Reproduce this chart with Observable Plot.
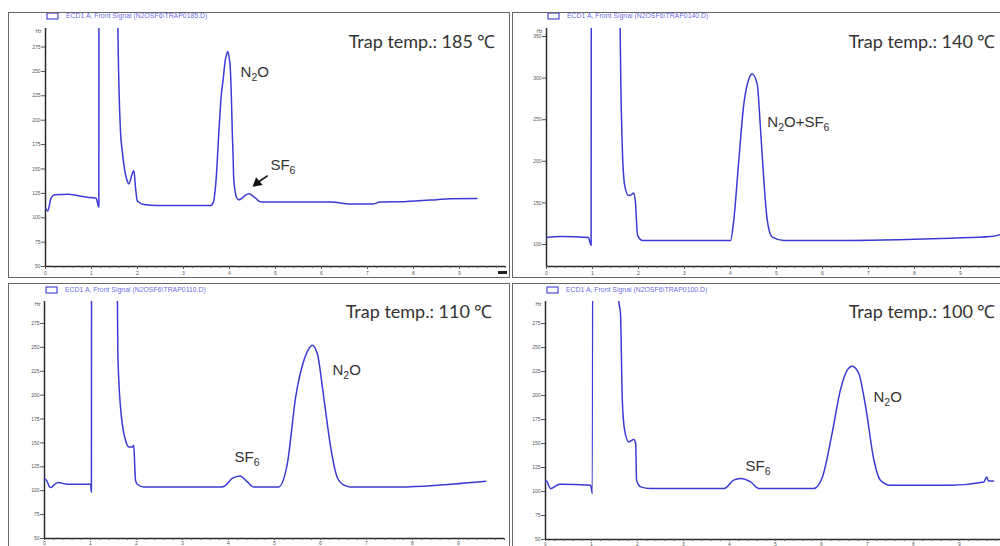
<!DOCTYPE html>
<html>
<head>
<meta charset="utf-8">
<script src="https://cdn.jsdelivr.net/npm/d3@7"></script>
<script src="https://cdn.jsdelivr.net/npm/@observablehq/plot@0.6"></script>
<style>
  html, body { margin: 0; padding: 0; background: #fff; overflow: hidden; }
  #chart { position: relative; width: 1000px; height: 546px; overflow: hidden; background: #fff; }
  #chart svg { position: absolute; outline: 1.6px solid #666; outline-offset: -1px; }
</style>
</head>
<body>
<div id="chart"></div>
<script>
// ECD front-signal chromatograms of N2O / SF6 at four cold-trap temperatures.
// Retention time in minutes, detector signal in Hz (off-scale solvent peaks run past the top).

const time185 = [0, 0.05, 0.12, 0.2, 0.5, 0.9, 1.1, 1.16, 1.175, 1.565, 1.572, 1.63, 1.667, 1.702, 1.776, 1.811, 1.885, 1.92, 1.963, 1.993, 2.03, 2.14, 2.43, 3.59, 3.65, 3.71, 3.77, 3.82, 3.86, 3.91, 3.93, 3.96, 3.99, 4.02, 4.04, 4.06, 4.08, 4.09, 4.12, 4.15, 4.2, 4.24, 4.33, 4.42, 4.5, 4.57, 4.64, 4.71, 6.2, 6.63, 7.1, 7.28, 7.8, 8.5, 8.8, 9.38];
const signal185 = [110, 107, 120, 123.5, 124, 121, 120, 111, 2000, 2000, 300, 189, 169, 155, 138, 134.7, 145, 148.4, 128, 117.6, 115.9, 113.5, 112.5, 112.5, 116, 140, 189, 225, 241, 262, 266, 270.5, 265, 251, 225, 189, 160, 141.5, 128, 121, 118.5, 119, 122.5, 124.5, 122.5, 120, 117, 116, 116, 114, 114, 116, 116.5, 118.5, 119.5, 119.7];

const time140 = [0, 0.3, 0.91, 0.97, 0.99, 1.59, 1.6, 1.65, 1.7, 1.78, 1.85, 1.89, 1.93, 1.98, 2.09, 4.0, 4.07, 4.18, 4.29, 4.4, 4.47, 4.58, 4.65, 4.72, 4.8, 4.91, 5.16, 6.61, 7.63, 8.78, 9.65, 9.87];
const signal140 = [108.4, 109.6, 108.4, 99, 2000, 2000, 370, 213, 171, 159, 160, 162, 153, 111, 104.8, 104.8, 128.8, 201, 269, 299, 305, 293, 241, 181, 128.8, 108.8, 104.8, 104.8, 105.6, 107.6, 109.6, 112];

const time110 = [0, 0.02, 0.13, 0.29, 0.49, 1.0, 1.02, 1.04, 1.58, 1.585, 1.593, 1.615, 1.652, 1.689, 1.761, 1.833, 1.907, 1.941, 1.963, 1.978, 2.015, 2.159, 3.83, 3.9, 4.08, 4.25, 4.41, 4.55, 5.09, 5.28, 5.46, 5.64, 5.75, 5.82, 5.93, 6.07, 6.22, 6.36, 6.51, 6.65, 7.74, 8.6, 9.59];
const signal110 = [111, 112, 103.3, 108.6, 106.8, 106.8, 98.7, 2000, 2000, 300, 250, 215.7, 187.7, 170.3, 152.8, 145.8, 145.8, 147.6, 124.9, 111, 106.8, 104, 104, 104.5, 112.8, 115.5, 109.2, 104, 104, 128.5, 198, 236.5, 248.7, 252.2, 243.5, 198, 145.8, 114.4, 105.8, 104, 104, 106, 110];

const time100 = [0, 0.02, 0.11, 0.31, 0.98, 1.02, 1.05, 1.585, 1.59, 1.63, 1.67, 1.72, 1.81, 1.92, 1.96, 1.98, 2.07, 2.28, 3.88, 4.09, 4.24, 4.46, 4.64, 5.83, 6.02, 6.23, 6.41, 6.56, 6.67, 6.81, 6.96, 7.14, 7.28, 7.5, 8.8, 9.53, 9.59, 9.63, 9.74];
const signal100 = [110, 111, 103, 107.6, 106.6, 97.9, 2000, 2000, 300, 285.5, 195, 163.9, 151.7, 154.2, 150, 111.8, 104.8, 103.1, 103.1, 111.8, 113.6, 110, 103.1, 103.1, 115.2, 160.5, 205.6, 226.4, 230.6, 223, 188.2, 132.6, 111.8, 106.6, 106.6, 110, 115, 111, 111];

// Signal axis ticks (Hz) and time axis ticks (min)
const signalTicks25 = [50, 75, 100, 125, 150, 175, 200, 225, 250, 275];
const signalTicks50 = [100, 150, 200, 250, 300, 350];
const timeTicks = [0, 1, 2, 3, 4, 5, 6, 7, 8, 9];

// Panel headings and detector-signal legend strings
const trapTemps = ["Trap temp.: 185 \u2103", "Trap temp.: 140 \u2103", "Trap temp.: 110 \u2103", "Trap temp.: 100 \u2103"];
const signalNames = [
  "ECD1 A, Front Signal (N2OSF6\\TRAP0185.D)",
  "ECD1 A, Front Signal (N2OSF6\\TRAP0140.D)",
  "ECD1 A, Front Signal (N2OSF6\\TRAP0110.D)",
  "ECD1 A, Front Signal (N2OSF6\\TRAP0100.D)"
];

// Peak annotations: text (underscore marks a subscript digit), time, signal
const peakText185 = ["N_2O", "SF_6"];
const peakTime185 = [4.24, 4.89];
const peakSignal185 = [249, 153.5];
const peakText140 = ["N_2O+SF_6"];
const peakTime140 = [4.8];
const peakSignal140 = [246.6];
const peakText110 = ["SF_6", "N_2O"];
const peakTime110 = [4.13, 6.26];
const peakSignal110 = [135, 226];
const peakText100 = ["SF_6", "N_2O"];
const peakTime100 = [4.35, 7.13];
const peakSignal100 = [126.4, 198.3];

// Arrow pointing at the small SF6 shoulder at 185 °C: [time, signal] of tail and head
const arrowTail185 = [4.83, 143.2];
const arrowHead185 = [4.6, 135.6];

const traceColor = "#3a3ad4";
const inkColor = "#333";

const panels = [
  {time: time185, signal: signal185, domain: [50, 294], ticks: signalTicks25, name: signalNames[0], temp: trapTemps[0],
   peaks: [peakText185, peakTime185, peakSignal185], arrow: true, scrollMark: true, tickSize: 3, tickPadding: 1.5,
   box: {left: 8, top: 12, width: 502, height: 266, mL: 37, mR: 5, mT: 16, mB: 12}, tempDx: -10, tempDy: 14, legendY: 1},
  {time: time140, signal: signal140, domain: [73.6, 359.6], ticks: signalTicks50, name: signalNames[1], temp: trapTemps[1],
   peaks: [peakText140, peakTime140, peakSignal140], arrow: false, scrollMark: false, tickSize: 3, tickPadding: 1.5,
   box: {left: 512, top: 12, width: 499, height: 266, mL: 34, mR: 5, mT: 16, mB: 12}, tempDx: -11, tempDy: 14, legendY: 1},
  {time: time110, signal: signal110, domain: [50, 298], ticks: signalTicks25, name: signalNames[2], temp: trapTemps[2],
   peaks: [peakText110, peakTime110, peakSignal110], arrow: false, scrollMark: false, tickSize: 2, tickPadding: 0.5,
   box: {left: 8, top: 283, width: 502, height: 268, mL: 36, mR: 6, mT: 18, mB: 13}, tempDx: -12, tempDy: 11, legendY: 4},
  {time: time100, signal: signal100, domain: [50, 298], ticks: signalTicks25, name: signalNames[3], temp: trapTemps[3],
   peaks: [peakText100, peakTime100, peakSignal100], arrow: false, scrollMark: false, tickSize: 2, tickPadding: 0.5,
   box: {left: 512, top: 283, width: 499, height: 268, mL: 33, mR: 6, mT: 18, mB: 12}, tempDx: -10, tempDy: 11, legendY: 4}
];

// Turn "N_2O" style strings into text with lowered, smaller digits
function subscriptLabels(svg) {
  d3.select(svg).selectAll("text").each(function () {
    if (this.querySelector("tspan") || !/_\d/.test(this.textContent)) return;
    const parts = this.textContent.split(/_(\d)/);
    const t = d3.select(this);
    t.text(null);
    let lowered = false;
    parts.forEach((p, i) => {
      if (!p) return;
      if (i % 2 === 1) {
        t.append("tspan").attr("dy", 4).attr("font-size", 10.5).text(p);
        lowered = true;
      } else {
        const span = t.append("tspan").text(p);
        if (lowered) { span.attr("dy", -4); lowered = false; }
      }
    });
  });
}

const chart = document.getElementById("chart");

panels.forEach((p) => {
  const b = p.box;
  const [ptext, ptime, psig] = p.peaks;
  const peakRows = ptext.map((t, i) => ({text: t, time: ptime[i], signal: psig[i]}));
  const marks = [
    Plot.ruleX([0], {stroke: "#2a2a2a", strokeWidth: 1.5}),
    Plot.ruleY([p.domain[0]], {stroke: "#2a2a2a", strokeWidth: 1.5}),
    Plot.axisY(p.ticks, {anchor: "left", tickSize: 4, tickPadding: 1, fontSize: 5, color: "#555", label: null}),
    Plot.axisX(timeTicks, {anchor: "bottom", tickSize: p.tickSize, tickPadding: p.tickPadding, fontSize: 5, color: "#555", label: null}),
    Plot.axisX(d3.range(0, 10.01, 0.2), {anchor: "bottom", tickSize: 2, text: null, color: "#555", label: null}),
    Plot.text(["Hz"], {frameAnchor: "top-left", dx: -4, dy: 1, textAnchor: "end", fontSize: 5, fill: "#555"}),
    Plot.lineY(p.time.map((t, i) => ({t, v: p.signal[i]})), {
      x: "t", y: "v", stroke: traceColor, strokeWidth: 1.5, curve: "monotone-x", clip: true
    }),
    Plot.text([p.temp], {
      frameAnchor: "top-right", textAnchor: "end", lineAnchor: "middle", dx: p.tempDx, dy: p.tempDy,
      fontFamily: "Lato", fontSize: 18, fill: inkColor
    }),
    Plot.text(peakRows, {
      x: "time", y: "signal", text: "text", textAnchor: "start", lineAnchor: "middle",
      fontFamily: "Liberation Sans", fontSize: 15, fill: inkColor
    })
  ];
  if (p.arrow) {
    marks.push(
      Plot.link([{}], {x1: () => arrowTail185[0], y1: () => arrowTail185[1], x2: () => arrowHead185[0], y2: () => arrowHead185[1], stroke: "#111", strokeWidth: 1.6}),
      Plot.dot([{}], {x: () => arrowHead185[0], y: () => arrowHead185[1], symbol: "triangle", r: 3.8, rotate: 230, fill: "#111", stroke: "none"})
    );
  }
  const svg = Plot.plot({
    width: b.width,
    height: b.height,
    marginLeft: b.mL,
    marginRight: b.mR,
    marginTop: b.mT,
    marginBottom: b.mB,
    style: {fontFamily: "Liberation Sans, Arial, sans-serif", fontSize: "5px", color: "#555", background: "#fff", overflow: "visible"},
    x: {domain: [0, 10], axis: null},
    y: {domain: p.domain, axis: null},
    marks
  });
  subscriptLabels(svg);

  // signal legend line along the top of the panel
  const s = d3.select(svg);
  const lx = b.mL + 2;
  s.append("rect").attr("x", lx).attr("y", p.legendY).attr("width", 11).attr("height", 6)
    .attr("fill", "none").attr("stroke", "#3a3ad8").attr("stroke-width", 1.1);
  s.append("text").attr("x", lx + 19).attr("y", p.legendY + 3).attr("dy", "0.35em")
    .attr("text-anchor", "start")
    .attr("font-size", 6.9).attr("fill", "#4a4ae6").attr("fill-opacity", 0.85).text(p.name);

  // small scroll marker at the end of the time axis
  if (p.scrollMark) {
    s.append("rect").attr("x", b.width - 12).attr("y", b.height - 7).attr("width", 9).attr("height", 3).attr("fill", "#222");
  }

  svg.style.left = b.left + "px";
  svg.style.top = b.top + "px";
  chart.appendChild(svg);
});
</script>
</body>
</html>
